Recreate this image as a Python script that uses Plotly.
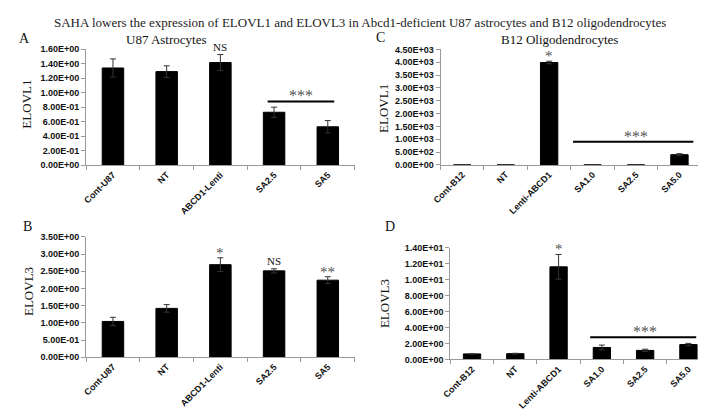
import plotly.graph_objects as go

# ---------------- data ----------------
title_text = "SAHA lowers the expression of ELOVL1 and ELOVL3 in Abcd1-deficient U87 astrocytes and B12 oligodendrocytes"

categories_U87 = ["Cont-U87", "NT", "ABCD1-Lenti", "SA2.5", "SA5"]
elovl1_U87 = [1.34, 1.29, 1.415, 0.73, 0.53]
elovl1_U87_err = [0.125, 0.08, 0.11, 0.07, 0.085]
elovl3_U87 = [1.04, 1.42, 2.69, 2.51, 2.24]
elovl3_U87_err = [0.12, 0.11, 0.20, 0.06, 0.10]

categories_B12 = ["Cont-B12", "NT", "Lenti-ABCD1", "SA1.0", "SA2.5", "SA5.0"]
elovl1_B12 = [1.0, 1.5, 3990, 1.2, 1.0, 400]
elovl1_B12_err = [0.1, 0.2, 50, 0.1, 0.1, 40]
elovl3_B12 = [0.70, 0.73, 11.63, 1.51, 1.14, 1.87]
elovl3_B12_err = [0.03, 0.05, 1.55, 0.30, 0.15, 0.15]

sig_A = ["", "", "NS", "", ""]
sig_B = ["", "", "*", "NS", "**"]
sig_C = ["", "", "*", "", "", ""]
sig_D = ["", "", "*", "", "", ""]

bracket_A = ("SA2.5", "SA5", "***")
bracket_C = ("SA1.0", "SA5.0", "***")
bracket_D = ("SA1.0", "SA5.0", "***")

yticks_A = [0.0, 0.2, 0.4, 0.6, 0.8, 1.0, 1.2, 1.4, 1.6]
yticks_B = [0.0, 0.5, 1.0, 1.5, 2.0, 2.5, 3.0, 3.5]
yticks_C = [0, 500, 1000, 1500, 2000, 2500, 3000, 3500, 4000, 4500]
yticks_D = [0, 2, 4, 6, 8, 10, 12, 14]

# ---------------- layout helpers ----------------
W, H = 706, 417


def px_x(a, b):
    return [a / W, b / W]


def px_y(bottom, top):
    return [(H - bottom) / H, (H - top) / H]


panels = [
    dict(cats=categories_U87, vals=elovl1_U87, errs=elovl1_U87_err, sig=sig_A, br=bracket_A,
         ticks=yticks_A, xd=(70, 342), yd=(156, 37), bry=0.88, broff=(-0.12, 0.12),
         ytitle="ELOVL1", ytpos=(10, 93)),
    dict(cats=categories_U87, vals=elovl3_U87, errs=elovl3_U87_err, sig=sig_B, br=None,
         ticks=yticks_B, xd=(70, 342), yd=(352.7, 229.3), bry=None, broff=None,
         ytitle="ELOVL3", ytpos=(11, 285)),
    dict(cats=categories_B12, vals=elovl1_B12, errs=elovl1_B12_err, sig=sig_C, br=bracket_C,
         ticks=yticks_C, xd=(429, 693), yd=(155.7, 37.3), bry=900, broff=(-0.45, 0.32),
         ytitle="ELOVL1", ytpos=(371, 98)),
    dict(cats=categories_B12, vals=elovl3_B12, errs=elovl3_B12_err, sig=sig_D, br=bracket_D,
         ticks=yticks_D, xd=(439, 702), yd=(355, 240.7), bry=2.78, broff=(-0.27, 0.18),
         ytitle="ELOVL3", ytpos=(373, 298)),
]

tick_font = dict(family="Liberation Sans, Arial, sans-serif", size=9, color="#111", weight="bold")
serif = "Liberation Serif, Times New Roman, serif"

fig = go.Figure()
annotations = []
shapes = []

for i, p in enumerate(panels):
    n = "" if i == 0 else str(i + 1)
    xa, ya = "x" + n, "y" + n
    fig.add_trace(go.Bar(
        x=p["cats"], y=p["vals"], xaxis=xa, yaxis=ya,
        marker=dict(color="black", line=dict(color="black", width=1)),
        error_y=dict(type="data", array=p["errs"], visible=True,
                     color="#333", thickness=1, width=3),
        showlegend=False, hoverinfo="x+y",
    ))
    top = p["ticks"][-1]
    fig.layout["xaxis" + n] = dict(
        domain=px_x(*p["xd"]), anchor=ya, type="category",
        categoryorder="array", categoryarray=p["cats"],
        showline=True, linecolor="#9a9a9a", linewidth=1,
        ticks="outside", tickson="boundaries", ticklen=4, tickcolor="#9a9a9a",
        tickangle=-45, tickfont=tick_font, showgrid=False, zeroline=False,
        range=[-0.5, len(p["cats"]) - 0.5],
    )
    fig.layout["yaxis" + n] = dict(
        domain=px_y(*p["yd"]), anchor=xa, range=[0, top],
        tickvals=p["ticks"], ticktext=[f"{v:.2E}" for v in p["ticks"]],
        showline=True, linecolor="#9a9a9a", linewidth=1,
        ticks="outside", ticklen=4, tickcolor="#9a9a9a",
        tickfont=tick_font, showgrid=False, zeroline=False,
    )
    for c, v, e, s in zip(p["cats"], p["vals"], p["errs"], p["sig"]):
        if s:
            is_star = "*" in s
            annotations.append(dict(
                x=c, y=v + e, xref=xa, yref=ya, text=s, showarrow=False,
                yanchor="bottom", yshift=-5 if is_star else 0,
                font=dict(family=serif, size=15 if is_star else 11,
                          color="#555" if is_star else "#111"),
            ))
    if p["br"]:
        c0, c1, txt = p["br"]
        i0, i1 = p["cats"].index(c0), p["cats"].index(c1)
        shapes.append(dict(type="line", xref=xa, yref=ya,
                           x0=i0 + p["broff"][0], x1=i1 + p["broff"][1],
                           y0=p["bry"], y1=p["bry"],
                           line=dict(color="black", width=2)))
        annotations.append(dict(
            x=(i0 + i1) / 2, y=p["bry"], xref=xa, yref=ya, text=txt,
            showarrow=False, yanchor="bottom", yshift=-5,
            font=dict(family=serif, size=16, color="#555"),
        ))
    annotations.append(dict(
        x=p["ytpos"][0] / W, y=(H - p["ytpos"][1]) / H, xref="paper", yref="paper",
        text=p["ytitle"], textangle=-90, showarrow=False,
        xanchor="center", yanchor="middle",
        font=dict(family=serif, size=13, color="#111"),
    ))

letters = [("A", 8, 26), ("B", 11, 219), ("C", 368, 25), ("D", 378, 219)]
for t, x, y in letters:
    annotations.append(dict(x=x / W, y=(H - y) / H, xref="paper", yref="paper",
                            text=t, showarrow=False, xanchor="center", yanchor="middle",
                            font=dict(family=serif, size=14, color="#111")))
subtitles = [("U87 Astrocytes", 151, 27), ("B12 Oligodendrocytes", 549, 27)]
for t, x, y in subtitles:
    annotations.append(dict(x=x / W, y=(H - y) / H, xref="paper", yref="paper",
                            text=t, showarrow=False, xanchor="center", yanchor="middle",
                            font=dict(family=serif, size=13, color="#111")))
annotations.append(dict(x=347 / W, y=(H - 10) / H, xref="paper", yref="paper",
                        text=title_text, showarrow=False, xanchor="center", yanchor="middle",
                        font=dict(family=serif, size=13, color="#222")))

fig.update_layout(
    width=W, height=H, margin=dict(l=0, r=0, t=0, b=0),
    paper_bgcolor="white", plot_bgcolor="white",
    bargap=0.6, annotations=annotations, shapes=shapes,
)

fig.write_html("out.html")
